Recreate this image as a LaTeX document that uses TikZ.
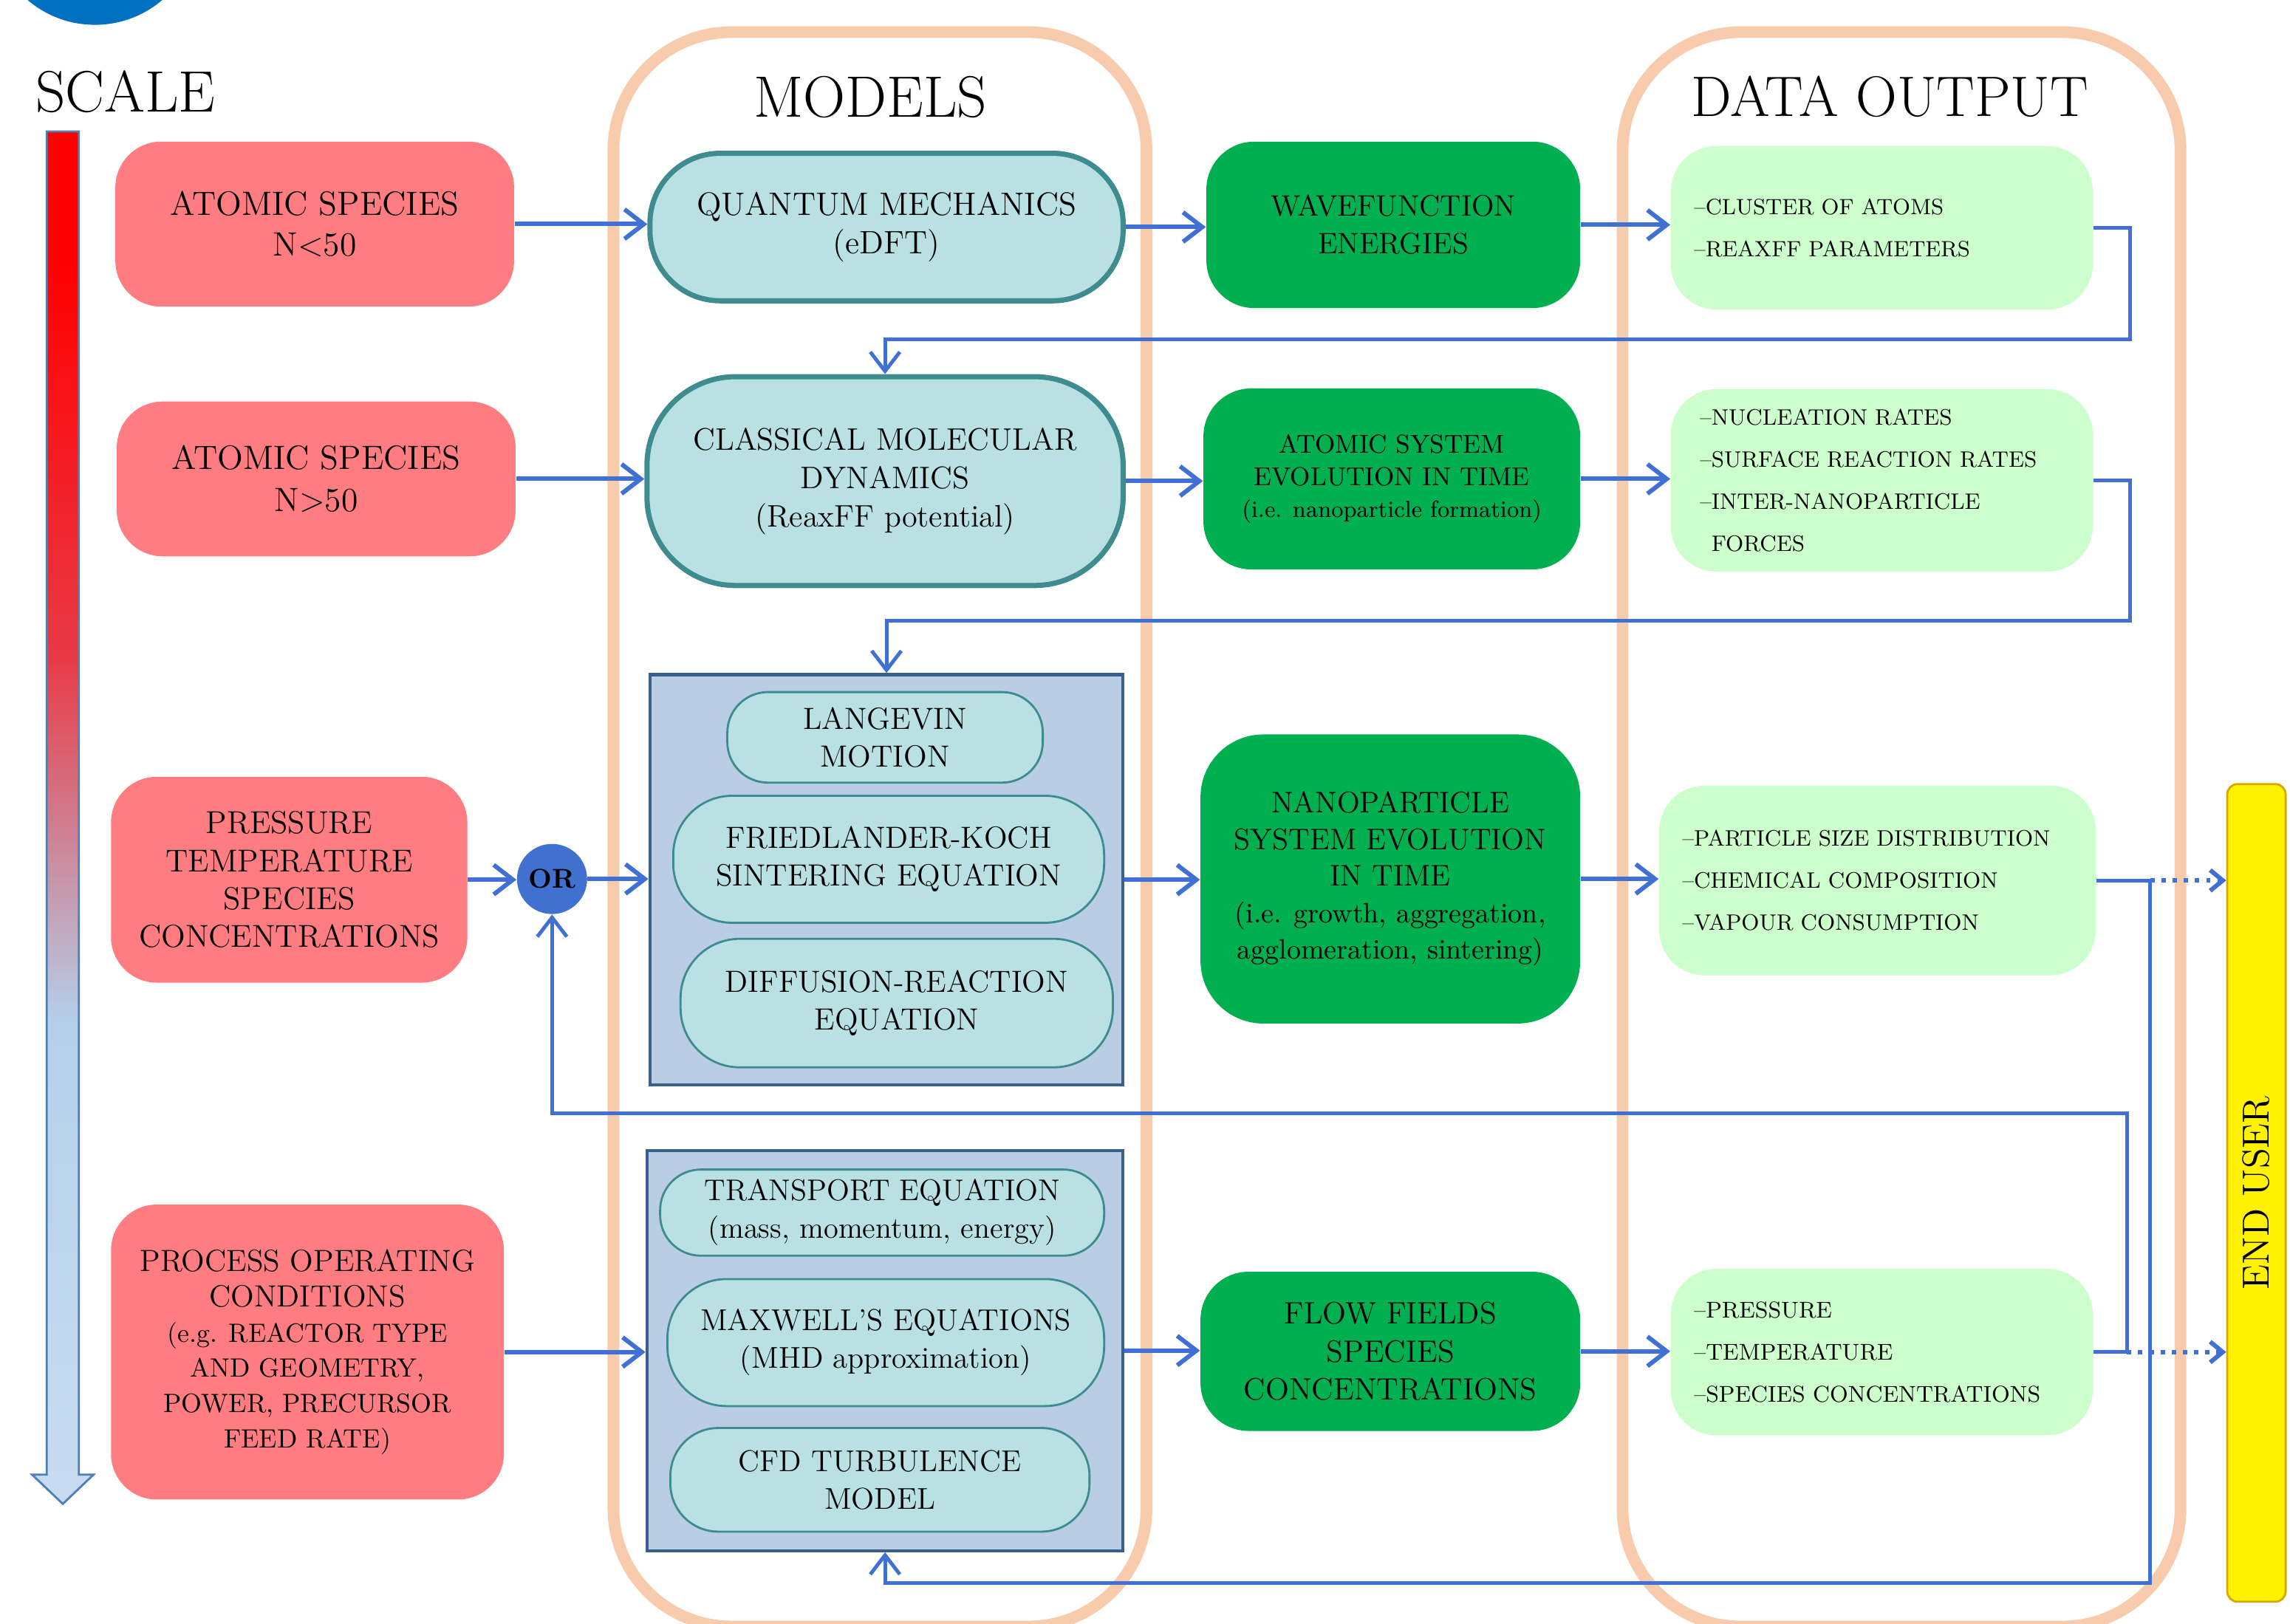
\documentclass[tikz,border=0pt]{standalone}
\usepackage{fontspec}
\usepackage{graphicx}
\usetikzlibrary{arrows.meta,calc}
\definecolor{cPeach}{HTML}{F8CBAD}
\definecolor{cRed}{HTML}{FF7C80}
\definecolor{cGreen}{HTML}{00B050}
\definecolor{cLGreen}{HTML}{CCFFCC}
\definecolor{cCyan}{HTML}{B9E0E3}
\definecolor{cTeal}{HTML}{3F8C90}
\definecolor{cCont}{HTML}{B9CDE5}
\definecolor{cContLine}{HTML}{3A5F8C}
\definecolor{cConn}{HTML}{4070D4}
\definecolor{cOr}{HTML}{4070D0}
\definecolor{cTopBlue}{HTML}{0070C0}
\definecolor{cScaleEdge}{HTML}{4F7FB5}
\definecolor{cLbA}{HTML}{B4D0EB}
\definecolor{cLbB}{HTML}{C8DCF1}
\definecolor{cMidA}{HTML}{E83A46}
\definecolor{cMidB}{HTML}{CB8A9D}
\definecolor{cEuLine}{HTML}{D9A800}
\newcommand\fs[2]{\fontsize{#1}{#2}\selectfont}
\begin{document}
\begin{tikzpicture}[x=0.01977cm,y=-0.01977cm,
  wh/.style 2 args={minimum width=#1*0.01977cm, minimum height=#2*0.01977cm},
  base/.style={inner sep=0pt, align=center, text=black},
  redb/.style={base, fill=cRed, rounded corners=0.62cm},
  cyanthick/.style={base, fill=cCyan, draw=cTeal, line width=2pt, rounded corners=0.95cm},
  cyanthin/.style={base, fill=cCyan, draw=cTeal, line width=0.8pt, rounded corners=0.55cm},
  contb/.style={base, fill=cCont, draw=cContLine, line width=1.2pt},
  greenb/.style={base, fill=cGreen, rounded corners=0.65cm},
  outb/.style={base, fill=cLGreen, rounded corners=0.62cm, align=left},
  panel/.style={draw=cPeach, line width=4.5pt, rounded corners=1.6cm, inner sep=0pt},
  titletext/.style={font=\fs{22.5}{26}, inner sep=0pt},
  conn/.style={draw=cConn, line width=1.7pt, -{Straight Barb[length=2.6mm,width=4mm]}},
  loopc/.style={conn, line width=1.4pt},
  dotc/.style={draw=cConn, line width=1.7pt, dash pattern=on 1.7pt off 2.6pt, -{Straight Barb[length=1.7mm,width=2.8mm]}}
]
\useasboundingbox (0,0) rectangle (1568,1112);
\clip (0,0) rectangle (1568,1112);
\fill[white] (0,0) rectangle (1568,1112);

% top-left circle
\fill[cTopBlue] (65,-54) circle[radius=1.404cm];

% scale arrow
\begin{scope}
\clip (32,90) -- (54,90) -- (54,1010) -- (64,1010) -- (43,1030) -- (22,1010) -- (32,1010) -- cycle;
\fill[red] (20,88) rectangle (66,181);
\shade[top color=red, bottom color=cMidA] (20,180) rectangle (66,451);
\shade[top color=cMidA, bottom color=cMidB] (20,450) rectangle (66,586);
\shade[top color=cMidB, bottom color=cLbA] (20,585) rectangle (66,701);
\shade[top color=cLbA, bottom color=cLbB] (20,700) rectangle (66,1032);
\end{scope}
\draw[cScaleEdge, line width=0.8pt, line join=miter] (32,90) -- (54,90) -- (54,1010) -- (64,1010) -- (43,1030) -- (22,1010) -- (32,1010) -- cycle;

% panels
\node[panel, wh={365}{1092}] (pmodels) at (602.5,568) {};
\node[panel, wh={382}{1092}] (pdata) at (1302,568) {};

% titles
\node[titletext] (tscale) at (86,63) {SCALE};
\node[titletext] (tmodels) at (596,66.5) {MODELS};
\node[titletext, font=\fs{22}{26}] (tdata) at (1294,66) {DATA OUTPUT};

% inputs
\node[redb, wh={273}{113}, font=\fs{13}{15.7}] (a1) at (215.5,153.5) {ATOMIC SPECIES\\N<50};
\node[redb, wh={273}{106}, font=\fs{13}{16.3}] (a2) at (216.5,328) {ATOMIC SPECIES\\N>50};
\node[redb, wh={244}{141}, font=\fs{12.2}{14.6}] (a3) at (198,602.5) {PRESSURE\\TEMPERATURE\\SPECIES\\CONCENTRATIONS};
\node[redb, wh={269}{202}, font=\fs{11.8}{13.6}] (a4) at (210.5,926) {PROCESS OPERATING\\CONDITIONS\\\fs{10.2}{13.6}(e.g. REACTOR TYPE\\\fs{10.2}{13.6}AND GEOMETRY,\\\fs{10.2}{13.6}POWER, PRECURSOR\\\fs{10.2}{13.6}FEED RATE)};

% models
\node[cyanthick, wh={324}{101}, font=\fs{12.5}{14.6}] (qm) at (607,155.5) {QUANTUM MECHANICS\\(eDFT)};
\node[cyanthick, wh={326}{143}, rounded corners=1.2cm, font=\fs{12}{14.8}] (cmd) at (606,329.5) {CLASSICAL MOLECULAR\\DYNAMICS\\(ReaxFF potential)};
\node[contb, wh={324}{281}] (b1) at (607,602.5) {};
\node[cyanthin, wh={216}{62}, font=\fs{11.8}{14.6}] (lang) at (606,505) {LANGEVIN\\MOTION};
\node[cyanthin, wh={295}{87}, rounded corners=0.8cm, font=\fs{11.8}{14.6}] (fk) at (608.5,588.5) {FRIEDLANDER-KOCH\\SINTERING EQUATION};
\node[cyanthin, wh={296}{88}, rounded corners=0.8cm, font=\fs{11.8}{14.6}] (dr) at (614,687) {DIFFUSION-REACTION\\EQUATION};
\node[contb, wh={326}{274}] (b2) at (606,925) {};
\node[cyanthin, wh={304}{59}, font=\fs{11.5}{14.6}] (tr) at (604,830.5) {TRANSPORT EQUATION\\(mass, momentum, energy)};
\node[cyanthin, wh={299}{87}, rounded corners=0.8cm, font=\fs{11.6}{14.6}] (mx) at (606.5,919.5) {MAXWELL'S EQUATIONS\\(MHD approximation)};
\node[cyanthin, wh={287}{71}, rounded corners=0.65cm, font=\fs{11.6}{14.6}] (cfd) at (602.5,1013.5) {CFD TURBULENCE\\MODEL};

% green results
\node[greenb, wh={256}{114}, font=\fs{11.4}{14.6}] (g1) at (954,154) {WAVEFUNCTION\\ENERGIES};
\node[greenb, wh={258}{124}, font=\fs{10}{12.4}] (g2) at (953,328) {ATOMIC SYSTEM\\EVOLUTION IN TIME\\\fs{9}{12.4}(i.e. nanoparticle formation)};
\node[greenb, wh={260}{198}, rounded corners=0.85cm, font=\fs{11.5}{14.1}] (g3) at (952,602) {NANOPARTICLE\\SYSTEM EVOLUTION\\IN TIME\\\fs{10.8}{14.1}(i.e. growth, aggregation,\\\fs{10.8}{14.1}agglomeration, sintering)};
\node[greenb, wh={260}{109}, font=\fs{11.9}{14.6}] (g4) at (952,925.5) {FLOW FIELDS\\SPECIES\\CONCENTRATIONS};

% outputs
\node[outb, wh={289}{112}, text width={257*0.01977cm}, inner xsep={16*0.01977cm}, font=\fs{8.5}{16.3}] (o1) at (1288.5,156) {\textendash CLUSTER OF ATOMS\\\textendash REAXFF PARAMETERS};
\node[outb, wh={289}{125}, text width={249*0.01977cm}, inner xsep={20*0.01977cm}, font=\fs{8.6}{16.3}] (o2) at (1288.5,329) {\textendash NUCLEATION RATES\\\textendash SURFACE REACTION RATES\\\textendash INTER-NANOPARTICLE\\\phantom{\textendash}FORCES};
\node[outb, wh={299}{130}, text width={267*0.01977cm}, inner xsep={16*0.01977cm}, font=\fs{8.6}{16.3}] (o3) at (1285.5,603) {\textendash PARTICLE SIZE DISTRIBUTION\\\textendash CHEMICAL COMPOSITION\\\textendash VAPOUR CONSUMPTION};
\node[outb, wh={289}{114}, text width={257*0.01977cm}, inner xsep={16*0.01977cm}, font=\fs{8.8}{16.3}] (o4) at (1288.5,926) {\textendash PRESSURE\\\textendash TEMPERATURE\\\textendash SPECIES CONCENTRATIONS};

% OR and end user
\node[circle, fill=cOr, minimum size={48*0.01977cm}, inner sep=0pt, font=\fs{10.5}{12}\bfseries] (ornode) at (378,602) {OR};
\node[draw=cEuLine, fill=yellow, line width=0.8pt, rounded corners=4pt, inner sep=0pt, wh={40}{560}, font=\fs{14.5}{17}] (eu) at (1545,817) {\rotatebox{90}{END USER}};

% connectors
\draw[conn] (a1.east) -- (a1.east -| qm.west);
\draw[conn] (qm.east) -- (qm.east -| g1.west);
\draw[conn] (g1.east) -- (g1.east -| o1.west);
\coordinate (j1) at ($(o1.east)+(25,0)$);
\draw[loopc] (o1.east) -- (j1) |- ($(cmd.north)+(0,-24)$) -- (cmd.north);

\draw[conn] (a2.east) -- (a2.east -| cmd.west);
\draw[conn] (cmd.east) -- (cmd.east -| g2.west);
\draw[conn] (g2.east) -- (g2.east -| o2.west);
\coordinate (j2) at ($(o2.east)+(25,0)$);
\draw[loopc] (o2.east) -- (j2) |- ($(b1.north)+(0,-36)$) -- (b1.north);

\draw[conn] (a3.east) -- (a3.east -| ornode.west);
\draw[conn] (ornode.east) -- (ornode.east -| b1.west);
\draw[conn] (b1.east) -- (b1.east -| g3.west);
\draw[conn] (g3.east) -- (g3.east -| o3.west);
\coordinate (j3) at ($(o3.east)+(37,0)$);
\draw[loopc] (o3.east) -- (j3) |- ($(b2.south)+(0,21)$) -- (b2.south);
\draw[dotc] (j3) -- (j3 -| eu.west);

\draw[conn] (a4.east) -- (a4.east -| b2.west);
\draw[conn] (b2.east) -- (b2.east -| g4.west);
\draw[conn] (g4.east) -- (g4.east -| o4.west);
\coordinate (j4) at ($(o4.east)+(23,0)$);
\draw[loopc] (o4.east) -- (j4) |- ($(ornode.south)+(0,136)$) -- (ornode.south);
\draw[dotc] (j4) -- (j4 -| eu.west);
\end{tikzpicture}
\end{document}
